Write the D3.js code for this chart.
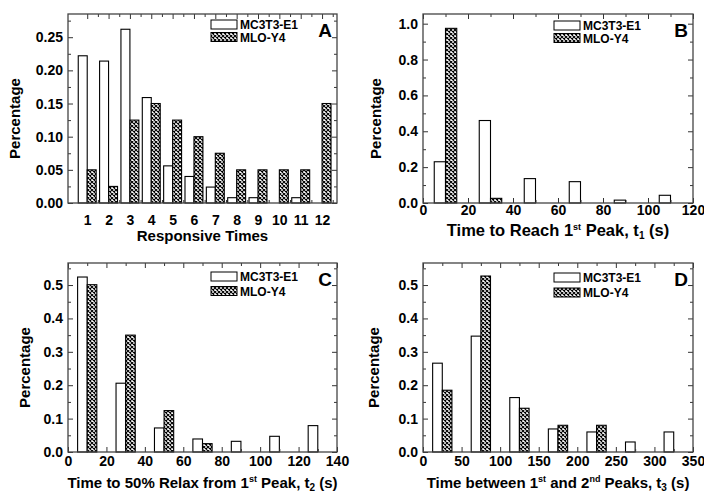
<!DOCTYPE html>
<html>
<head>
<meta charset="utf-8">
<script src="https://cdn.jsdelivr.net/npm/d3@7"></script>
<style>
  body { margin: 0; background: #fff; }
  text { font-family: "Liberation Sans", Arial, sans-serif; font-weight: bold; fill: #000; }
</style>
</head>
<body>
<div id="chart"></div>
<script>
// values
var responsiveTimes = [1, 2, 3, 4, 5, 6, 7, 8, 9, 10, 11, 12];
var mcA  = [0.222, 0.214, 0.262, 0.159, 0.056, 0.040, 0.024, 0.008, 0.008, 0, 0.008, 0];
var mloA = [0.050, 0.025, 0.125, 0.150, 0.125, 0.100, 0.075, 0.050, 0.050, 0.050, 0.050, 0.150];

var binsB = [10, 30, 50, 70, 90, 110];
var mcB  = [0.230, 0.460, 0.136, 0.119, 0.016, 0.043];
var mloB = [0.974, 0.026, 0, 0, 0, 0];

var binsC = [10, 30, 50, 70, 90, 110, 130];
var mcC  = [0.524, 0.206, 0.072, 0.039, 0.032, 0.047, 0.079];
var mloC = [0.501, 0.350, 0.124, 0.025, 0, 0, 0];

var binsD = [25, 75, 125, 175, 225, 275, 325];
var mcD  = [0.266, 0.347, 0.163, 0.069, 0.060, 0.030, 0.060];
var mloD = [0.185, 0.527, 0.131, 0.080, 0.080, 0, 0];

var seriesNames = ["MC3T3-E1", "MLO-Y4"];

var W = 704, H = 493;

var svg = d3.select("#chart").append("svg")
    .attr("width", W)
    .attr("height", H);

// crosshatch fill for the MLO-Y4 bars
var pat = svg.append("defs").append("pattern")
    .attr("id", "hatch")
    .attr("patternUnits", "userSpaceOnUse")
    .attr("width", 4)
    .attr("height", 4);
pat.append("rect").attr("width", 4).attr("height", 4).attr("fill", "#fff");
pat.append("path")
    .attr("d", "M0,0L4,4M4,0L0,4")
    .attr("stroke", "#000")
    .attr("stroke-width", 1.1);

/* draws one panel
   cfg: box, domains, tick steps, data, labels */
function panel(cfg) {
    var g = svg.append("g").attr("transform", "translate(" + cfg.left + "," + cfg.top + ")");
    var w = cfg.right - cfg.left, h = cfg.bottom - cfg.top;

    var x = d3.scaleLinear().domain(cfg.xDomain).range([0, w]);
    var y = d3.scaleLinear().domain(cfg.yDomain).range([h, 0]);

    var xMajor = d3.range(cfg.xTicks[0], cfg.xTicks[1] + 1e-9, cfg.xTicks[2]);
    var xMinor = d3.range(cfg.xTicks[0] + cfg.xTicks[2] / 2, cfg.xDomain[1], cfg.xTicks[2]);
    var yMajor = d3.range(0, cfg.yDomain[1], cfg.yTicks);
    var yMinor = d3.range(cfg.yTicks / 2, cfg.yDomain[1], cfg.yTicks);

    // bars
    var bw = cfg.barWidth;
    [cfg.mc, cfg.mlo].forEach(function(vals, s) {
        g.selectAll(".bar" + s)
            .data(cfg.cats.map(function(c, i) { return { c: c, v: vals[i] }; })
                     .filter(function(d) { return d.v > 0; }))
            .enter().append("rect")
            .attr("x", function(d) { return x(s == 0 ? d.c - bw : d.c); })
            .attr("width", function(d) { return x(bw) - x(0); })
            .attr("y", function(d) { return y(d.v); })
            .attr("height", function(d) { return h - y(d.v); })
            .attr("fill", s == 0 ? "#fff" : "url(#hatch)")
            .attr("stroke", "#000")
            .attr("stroke-width", 1.1);
    });

    // axes, ticks pointing inward on all four sides
    function axisSet(maker, scale, vals, size, fmt, pad, tr) {
        var a = maker(scale).tickValues(vals).tickSize(size).tickPadding(pad);
        a.tickFormat(fmt || "");
        var ax = g.append("g").attr("transform", tr || null).call(a);
        ax.select(".domain").remove();
        ax.selectAll("line").attr("stroke", "#333").attr("stroke-width", 1);
        ax.selectAll("text").style("font-size", "14px").attr("fill", "#000");
        return ax;
    }
    axisSet(d3.axisBottom, x, xMajor, -5, cfg.xFormat, cfg.xPad, "translate(0," + h + ")");
    axisSet(d3.axisBottom, x, xMinor, -3, null, 0, "translate(0," + h + ")");
    axisSet(d3.axisTop, x, xMajor, -5, null, 0);
    axisSet(d3.axisTop, x, xMinor, -3, null, 0);
    axisSet(d3.axisLeft, y, yMajor, -5, cfg.yFormat, 5);
    axisSet(d3.axisLeft, y, yMinor, -3, null, 0);
    axisSet(d3.axisRight, y, yMajor, -5, null, 0, "translate(" + w + ",0)");
    axisSet(d3.axisRight, y, yMinor, -3, null, 0, "translate(" + w + ",0)");

    g.append("rect")
        .attr("width", w).attr("height", h)
        .attr("fill", "none")
        .attr("stroke", "#444")
        .attr("stroke-width", 1.3);

    // axis titles
    g.append("text")
        .attr("transform", "translate(" + cfg.yTitleX + "," + (h / 2 + 10) + ") rotate(-90)")
        .attr("text-anchor", "middle")
        .style("font-size", "15px")
        .text("Percentage");

    var xt = g.append("text")
        .attr("x", w / 2)
        .attr("y", h + cfg.xTitleDy)
        .attr("text-anchor", "middle")
        .style("font-size", (cfg.xTitleSize || 15) + "px");
    cfg.xTitle.forEach(function(p) {
        var t = xt.append("tspan").text(p.t);
        if (p.sup) t.attr("dy", -6).style("font-size", "9px");
        else if (p.sub) t.attr("dy", 3).style("font-size", "10px");
        if (p.back) t.attr("dy", p.back);
    });

    // legend
    var lg = g.append("g").attr("transform", "translate(" + cfg.legX + "," + cfg.legY + ")");
    seriesNames.forEach(function(n, i) {
        lg.append("rect")
            .attr("x", 0).attr("y", i * cfg.legGap)
            .attr("width", 26).attr("height", 9)
            .attr("fill", i == 0 ? "#fff" : "url(#hatch)")
            .attr("stroke", "#000").attr("stroke-width", 1);
        lg.append("text")
            .attr("x", 29).attr("y", i * cfg.legGap + 9)
            .style("font-size", "12px")
            .text(n);
    });

    g.append("text")
        .attr("x", w - 5).attr("y", 23)
        .attr("text-anchor", "end")
        .style("font-size", "19px")
        .text(cfg.letter);
}

panel({
    left: 68, right: 337, top: 14, bottom: 203,
    xDomain: [0.1, 12.7], yDomain: [0, 0.285],
    xTicks: [1, 12, 1], yTicks: 0.05,
    xFormat: d3.format("d"), yFormat: d3.format(".2f"), xPad: 12,
    cats: responsiveTimes, mc: mcA, mlo: mloA, barWidth: 0.42,
    yTitleX: -48, xTitleDy: 38,
    xTitle: [{ t: "Responsive Times" }],
    legX: 143, legY: 6, legGap: 12.5, letter: "A"
});

panel({
    left: 423, right: 693, top: 14, bottom: 203,
    xDomain: [0, 120], yDomain: [0, 1.054],
    xTicks: [0, 120, 20], yTicks: 0.2,
    xFormat: d3.format("d"), yFormat: d3.format(".1f"), xPad: 2,
    cats: binsB, mc: mcB, mlo: mloB, barWidth: 5,
    yTitleX: -42, xTitleDy: 33, xTitleSize: 16.5,
    xTitle: [{ t: "Time to Reach 1" }, { t: "st", sup: true }, { t: " Peak, t", back: 6 }, { t: "1", sub: true }, { t: " (s)", back: -3 }],
    legX: 131, legY: 7, legGap: 12.5, letter: "B"
});

panel({
    left: 68, right: 337, top: 263, bottom: 452,
    xDomain: [0, 140], yDomain: [0, 0.566],
    xTicks: [0, 140, 20], yTicks: 0.1,
    xFormat: d3.format("d"), yFormat: d3.format(".1f"), xPad: 4,
    cats: binsC, mc: mcC, mlo: mloC, barWidth: 5,
    yTitleX: -38, xTitleDy: 36,
    xTitle: [{ t: "Time to 50% Relax from 1" }, { t: "st", sup: true }, { t: " Peak, t", back: 6 }, { t: "2", sub: true }, { t: " (s)", back: -3 }],
    legX: 143, legY: 9, legGap: 14.5, letter: "C"
});

panel({
    left: 423, right: 693, top: 263, bottom: 452,
    xDomain: [0, 350], yDomain: [0, 0.566],
    xTicks: [0, 350, 50], yTicks: 0.1,
    xFormat: d3.format("d"), yFormat: d3.format(".1f"), xPad: 4,
    cats: binsD, mc: mcD, mlo: mloD, barWidth: 12.5,
    yTitleX: -44, xTitleDy: 36,
    xTitle: [{ t: "Time between 1" }, { t: "st", sup: true }, { t: " and 2", back: 6 }, { t: "nd", sup: true }, { t: " Peaks, t", back: 6 }, { t: "3", sub: true }, { t: " (s)", back: -3 }],
    legX: 131, legY: 10, legGap: 15, letter: "D"
});
</script>
</body>
</html>
